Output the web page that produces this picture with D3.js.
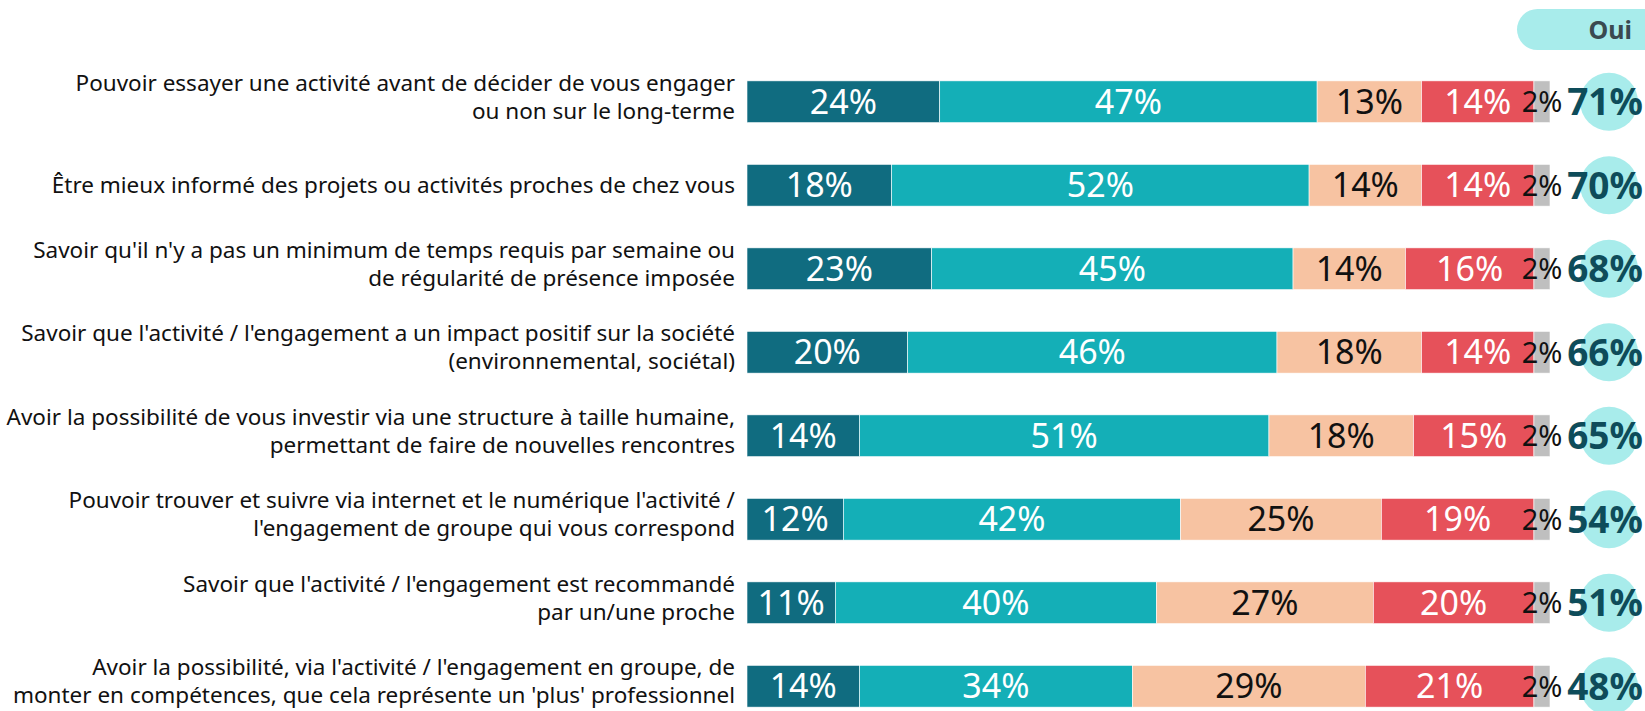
<!DOCTYPE html>
<html>
<head>
<meta charset="utf-8">
<script src="https://cdn.jsdelivr.net/npm/d3@7"></script>
<style>
  body { margin: 0; background: #fff; }
  svg { display: block; font-family: 'Noto Sans', sans-serif; }
</style>
</head>
<body>
<div id="chart"></div>
<script>
// data
const categories = [
  "Pouvoir essayer une activité avant de décider de vous engager\nou non sur le long-terme",
  "Être mieux informé des projets ou activités proches de chez vous",
  "Savoir qu'il n'y a pas un minimum de temps requis par semaine ou\nde régularité de présence imposée",
  "Savoir que l'activité / l'engagement a un impact positif sur la société\n(environnemental, sociétal)",
  "Avoir la possibilité de vous investir via une structure à taille humaine,\npermettant de faire de nouvelles rencontres",
  "Pouvoir trouver et suivre via internet et le numérique l'activité /\nl'engagement de groupe qui vous correspond",
  "Savoir que l'activité / l'engagement est recommandé\npar un/une proche",
  "Avoir la possibilité, via l'activité / l'engagement en groupe, de\nmonter en compétences, que cela représente un 'plus' professionnel"
]
const ouiTout = [24, 18, 23, 20, 14, 12, 11, 14]
const ouiPlutot = [47, 52, 45, 46, 51, 42, 40, 34]
const nonPlutot = [13, 14, 14, 18, 18, 25, 27, 29]
const nonPas = [14, 14, 16, 14, 15, 19, 20, 21]
const nsp = [2, 2, 2, 2, 2, 2, 2, 2]
const ouiTotal = [71, 70, 68, 66, 65, 54, 51, 48]
const seriesKeys = ['ouiTout', 'ouiPlutot', 'nonPlutot', 'nonPas', 'nsp']
const headerLabel = 'Oui'

const W = 1645, H = 711
const colors = {
  ouiTout: '#106c80', ouiPlutot: '#14afb7', nonPlutot: '#f7c3a2', nonPas: '#e6515a', nsp: '#bfbfbf'
}
const textColors = {
  ouiTout: '#fff', ouiPlutot: '#fff', nonPlutot: '#111', nonPas: '#fff', nsp: '#111'
}

const rows = categories.map((c, i) => ({
  cat: c, ouiTout: ouiTout[i], ouiPlutot: ouiPlutot[i], nonPlutot: nonPlutot[i],
  nonPas: nonPas[i], nsp: nsp[i], oui: ouiTotal[i]
}))

const svg = d3.select('#chart').append('svg')
  .attr('width', W)
  .attr('height', H)

const x = d3.scaleLinear().domain([0, 100]).range([747, 1550])
const y = d3.scaleBand().domain(categories).range([60, 728])
  .paddingInner(0.5).paddingOuter(0.25)

const stacked = d3.stack().keys(seriesKeys)(rows)

// bars
const layers = svg.selectAll('.layer')
  .data(stacked)
  .enter().append('g')
  .attr('class', 'layer')

layers.selectAll('rect')
  .data(d => d.map(p => ({ p, key: d.key })))
  .enter().append('rect')
  .attr('x', d => x(d.p[0]))
  .attr('y', d => y(d.p.data.cat))
  .attr('width', d => x(d.p[1]) - x(d.p[0]))
  .attr('height', y.bandwidth())
  .attr('fill', d => colors[d.key])
  .attr('stroke', '#fff')
  .attr('stroke-width', 0.6)

// bar values
layers.selectAll('text')
  .data(d => d.map(p => ({ p, key: d.key })))
  .enter().append('text')
  .attr('x', d => (x(d.p[0]) + x(d.p[1])) / 2)
  .attr('y', d => y(d.p.data.cat) + y.bandwidth() / 2)
  .attr('dy', '0.36em')
  .attr('text-anchor', 'middle')
  .attr('font-size', d => d.key === 'nsp' ? 29 : 34)
  .attr('fill', d => textColors[d.key])
  .text(d => (d.p[1] - d.p[0]) + '%')

// category labels
const labels = svg.selectAll('.cat')
  .data(categories)
  .enter().append('text')
  .attr('class', 'cat')
  .attr('text-anchor', 'end')
  .attr('font-size', 22.5)
  .attr('fill', '#111')
  .attr('transform', d => {
    const n = d.split('\n').length
    const cy = y(d) + y.bandwidth() / 2 + (n > 1 ? -5 : 0)
    return 'translate(735,' + (cy - (n - 1) * 14) + ')'
  })
labels.selectAll('tspan')
  .data(d => d.split('\n'))
  .enter().append('tspan')
  .attr('x', 0)
  .attr('dy', (d, i) => i === 0 ? '0.35em' : 28)
  .text(d => d)

// header pill
svg.append('rect')
  .attr('x', 1517).attr('y', 9)
  .attr('width', 160).attr('height', 41)
  .attr('rx', 20.5)
  .attr('fill', '#a8eceb')
svg.append('text')
  .attr('x', 1632).attr('y', 30)
  .attr('dy', '0.36em')
  .attr('text-anchor', 'end')
  .attr('font-size', 25)
  .attr('font-weight', 700)
  .attr('fill', '#3a4a50')
  .text(headerLabel)

// oui totals
const tot = svg.selectAll('.tot')
  .data(rows)
  .enter().append('g')
  .attr('class', 'tot')
  .attr('transform', d => 'translate(0,' + (y(d.cat) + y.bandwidth() / 2) + ')')
tot.append('circle')
  .attr('cx', 1609)
  .attr('r', 29)
  .attr('fill', '#a8eceb')
tot.append('text')
  .attr('x', 1605)
  .attr('dy', '0.36em')
  .attr('text-anchor', 'middle')
  .attr('font-size', 37)
  .attr('font-weight', 700)
  .attr('fill', '#0e4c5a')
  .text(d => d.oui + '%')
</script>
</body>
</html>
